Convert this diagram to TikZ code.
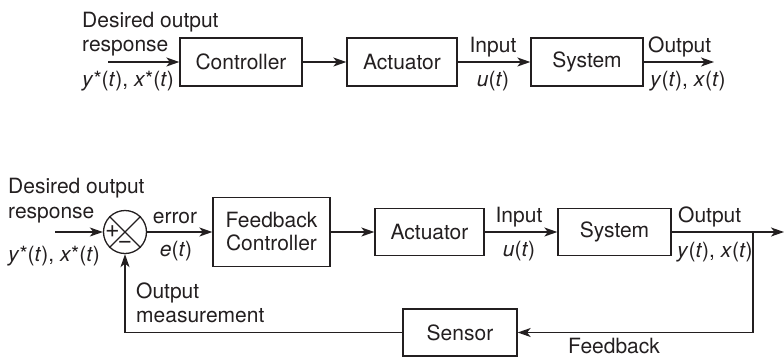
\documentclass[tikz,border=0pt]{standalone}
\usepackage{fontspec}
\setmainfont{TeX Gyre Heros}
\usetikzlibrary{arrows.meta}
\definecolor{ink}{HTML}{231F20}
\begin{document}
\begin{tikzpicture}[x=1pt,y=-1pt,
  font=\fontsize{21}{23}\selectfont,
  blk/.style={draw=ink, line width=1.3pt, inner sep=0pt, align=center, text=ink},
  lbl/.style={inner sep=0pt, text=ink},
  sgn/.style={inner sep=0pt, text=ink, font=\fontsize{25}{25}\selectfont},
  wire/.style={draw=ink, line width=1.3pt},
  flow/.style={wire, -{Stealth[length=13pt,width=9pt,inset=3.5pt]}}]
\useasboundingbox (0,0) rectangle (784,357);

% ---------- open-loop chain ----------
\node[blk, minimum width=122pt, minimum height=48pt] (ctl) at (241,62) {Controller};
\node[blk, minimum width=110pt, minimum height=48pt] (act) at (402,62) {Actuator};
\node[blk, minimum width=112pt, minimum height=48pt] (sys) at (587,62) {System};
\coordinate (in1) at (108,62);
\coordinate (out1) at (714,62);
\draw[flow] (in1) -- (ctl);
\draw[flow] (ctl) -- (act);
\draw[flow] (act) -- (sys);
\draw[flow] (sys) -- (out1);

\node[lbl, anchor=base west] (d1a) at (82,27) {Desired output};
\node[lbl, anchor=base west] (d1b) at (82,51) {response};
\node[lbl, anchor=base west] (d1c) at (82,86) {\textit{y}*(\textit{t}), \textit{x}*(\textit{t})};
\node[lbl, anchor=base] (u1a) at (493,52) {Input};
\node[lbl, anchor=base] (u1b) at (493,86) {\textit{u}(\textit{t})};
\node[lbl, anchor=base west] (o1a) at (648,52) {Output};
\node[lbl, anchor=base west] (o1b) at (650,86) {\textit{y}(\textit{t}), \textit{x}(\textit{t})};

% ---------- closed-loop chain ----------
\node[circle, draw=ink, line width=1.3pt, minimum size=43pt, inner sep=0pt] (sum) at (125,232) {};
\draw[wire] (sum.north west) -- (sum.south east);
\draw[wire] (sum.north east) -- (sum.south west);
\node[sgn] (plus) at ([xshift=9.5pt]sum.west) {+};
\node[sgn] (minus) at ([yshift=9.5pt]sum.south) {\textminus};

\node[blk, minimum width=117pt, minimum height=69pt] (fbc) at (271.5,232) {Feedback\\Controller};
\node[blk, minimum width=109pt, minimum height=47pt] (act2) at (429.5,232) {Actuator};
\node[blk, minimum width=113pt, minimum height=47pt] (sys2) at (614.5,232) {System};
\node[blk, minimum width=114pt, minimum height=47pt] (sen) at (460,332.5) {Sensor};

\coordinate (in2) at (55,232);
\coordinate (out2) at (784,232);
\coordinate (br) at (753,232);
\draw[flow] (in2) -- (sum);
\draw[flow] (sum) -- (fbc);
\draw[flow] (fbc) -- (act2);
\draw[flow] (act2) -- (sys2);
\draw[flow] (sys2) -- (out2);
\draw[flow] (br) |- (sen);
\draw[flow] (sen) -| (sum);

\node[lbl, anchor=base west] (d2a) at (8,193) {Desired output};
\node[lbl, anchor=base west] (d2b) at (8,218) {response};
\node[lbl, anchor=base west] (d2c) at (8,261) {\textit{y}*(\textit{t}), \textit{x}*(\textit{t})};
\node[lbl, anchor=base] (e2a) at (175,223) {error};
\node[lbl, anchor=base] (e2b) at (176,256) {\textit{e}(\textit{t})};
\node[lbl, anchor=base west] (m2a) at (136,298) {Output};
\node[lbl, anchor=base west] (m2b) at (136,322) {measurement};
\node[lbl, anchor=base] (u2a) at (519,222) {Input};
\node[lbl, anchor=base] (u2b) at (519,256) {\textit{u}(\textit{t})};
\node[lbl, anchor=base west] (o2a) at (678,222) {Output};
\node[lbl, anchor=base west] (o2b) at (677,257) {\textit{y}(\textit{t}), \textit{x}(\textit{t})};
\node[lbl, anchor=base west] (fb) at (568,353) {Feedback};
\end{tikzpicture}
\end{document}
